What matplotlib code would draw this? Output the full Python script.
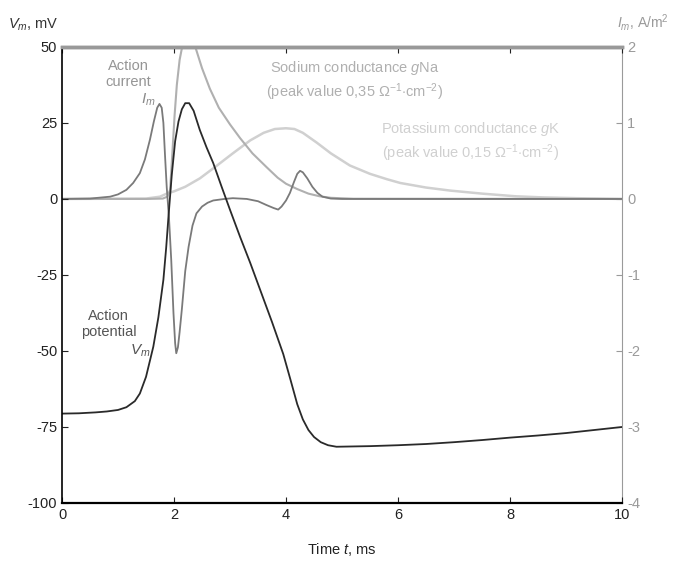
import matplotlib.pyplot as plt

plt.rcParams['font.family'] = ['Liberation Sans', 'DejaVu Sans']
plt.rcParams['mathtext.fontset'] = 'custom'
plt.rcParams['mathtext.rm'] = 'Liberation Sans'
plt.rcParams['mathtext.it'] = 'Liberation Sans:italic'
plt.rcParams['axes.unicode_minus'] = False

# membrane potential, mV (left axis)
t_vm = [0, 0.3, 0.6, 0.8, 1.0, 1.15, 1.3, 1.39, 1.5, 1.63, 1.72, 1.81, 1.86, 1.9, 1.96,
        2.02, 2.08, 2.14, 2.2, 2.27, 2.35, 2.46, 2.58, 2.7, 2.85, 3.0, 3.18, 3.36, 3.55,
        3.75, 3.95, 4.08, 4.2, 4.3, 4.4, 4.5, 4.62, 4.75, 4.9, 5.2, 5.5, 6, 6.5, 7, 7.5,
        8, 8.5, 9, 9.5, 10]
vm = [-70.6, -70.5, -70.2, -69.9, -69.4, -68.5, -66.5, -64, -58.5, -48.6, -39, -26.6, -16, -6, 8,
      19, 25.5, 29.5, 31.5, 31.5, 29, 22.7, 17, 11.8, 4, -3.6, -12.5, -21, -30.5,
      -40.5, -51, -59.5, -67.5, -72.5, -76, -78.3, -80, -81, -81.5, -81.4, -81.3, -81, -80.6, -80, -79.3,
      -78.5, -77.8, -77, -76, -75]

# action current, A/m2 (right axis)
t_im = [0, 0.5, 0.86, 1.0, 1.15, 1.27, 1.39, 1.48, 1.57, 1.64, 1.7, 1.74, 1.78, 1.81, 1.84,
        1.87, 1.91, 1.95, 1.99, 2.02, 2.04, 2.07, 2.1, 2.14, 2.2, 2.26, 2.33, 2.4, 2.5, 2.6,
        2.7, 2.9, 3.05, 3.3, 3.5, 3.65, 3.78, 3.86, 3.92, 4.0, 4.07, 4.14, 4.2, 4.25, 4.3,
        4.38, 4.47, 4.56, 4.65, 4.8, 5.0, 10]
im = [0, 0.005, 0.03, 0.06, 0.12, 0.21, 0.34, 0.52, 0.78, 1.02, 1.2, 1.25, 1.2, 1.0, 0.56,
      0.15, -0.25, -0.8, -1.5, -1.9, -2.03, -1.95, -1.75, -1.45, -0.95, -0.63, -0.35, -0.19, -0.1, -0.05,
      -0.02, 0.0, 0.01, 0.0, -0.03, -0.08, -0.12, -0.14, -0.1, -0.02, 0.08, 0.22, 0.33, 0.37, 0.35,
      0.27, 0.16, 0.08, 0.03, 0.005, 0, 0]

# sodium conductance (scaled to right axis)
t_na = [0, 1.5, 1.8, 1.88, 1.93, 1.97, 2.01, 2.05, 2.1, 2.15, 2.2, 2.3, 2.38, 2.5, 2.64,
        2.8, 3.0, 3.18, 3.4, 3.65, 3.85, 4.0, 4.2, 4.4, 4.6, 4.8, 5.2, 10]
g_na = [0, 0, 0.005, 0.03, 0.12, 0.6, 1.1, 1.5, 1.83, 2.02, 2.1, 2.12, 2.0, 1.72, 1.45,
        1.2, 0.98, 0.8, 0.6, 0.42, 0.28, 0.2, 0.13, 0.07, 0.035, 0.015, 0.003, 0]

# potassium conductance (scaled to right axis)
t_k = [0, 1.5, 1.75, 1.87, 2.0, 2.2, 2.46, 2.75, 3.05, 3.36, 3.6, 3.8, 4.0, 4.15, 4.3,
       4.55, 4.8, 5.14, 5.5, 5.8, 6.04, 6.5, 6.93, 7.5, 8.1, 8.6, 9.2, 10]
g_k = [0, 0.005, 0.03, 0.07, 0.1, 0.16, 0.27, 0.43, 0.6, 0.77, 0.87, 0.92, 0.93, 0.92, 0.87,
       0.74, 0.6, 0.44, 0.33, 0.26, 0.21, 0.15, 0.11, 0.07, 0.035, 0.02, 0.01, 0]

fig = plt.figure(figsize=(6.83, 5.62), dpi=100)
ax = fig.add_axes([0.0908, 0.105, 0.82, 0.8115])
ax2 = ax.twinx()

ax2.plot(t_k, g_k, color='#d0d0d0', lw=1.8)
ax2.plot(t_na, g_na, color='#b0b0b0', lw=1.5)
ax2.plot(t_im, im, color='#7a7a7a', lw=1.3)
ax.plot(t_vm, vm, color='#2a2a2a', lw=1.3)
ax.set_zorder(ax2.get_zorder() + 1)
ax.patch.set_visible(False)

ax.set_xlim(0, 10)
ax.set_ylim(-100, 50)
ax2.set_ylim(-4, 2)
ax.set_xticks([0, 2, 4, 6, 8, 10])
ax.set_yticks([50, 25, 0, -25, -50, -75, -100])
ax2.set_yticks([2, 1, 0, -1, -2, -3, -4])
ax.tick_params(direction='in', length=4, labelsize=10.5, top=True, colors='#222222')
ax2.tick_params(direction='in', length=4, labelsize=10.5, colors='#9a9a9a')

for a in (ax, ax2):
    a.spines['top'].set_color('#999999')
    a.spines['top'].set_linewidth(2.5)
ax.spines['right'].set_visible(False)
ax2.spines['right'].set_color('#9a9a9a')
ax2.spines['left'].set_visible(False)
ax2.spines['bottom'].set_visible(False)
ax.spines['left'].set_linewidth(1.2)
ax.spines['bottom'].set_linewidth(1.6)

ax.set_xlabel('Time $t$, ms', fontsize=10.5, color='#222222', labelpad=14)
fig.text(0.012, 0.955, '$V_m$, mV', fontsize=10.5, color='#333333', va='center')
fig.text(0.903, 0.96, '$I_m$, A/m$^2$', fontsize=10, color='#9a9a9a', va='center')

ax.text(1.18, 41, 'Action\ncurrent', fontsize=10.5, color='#959595', ha='center', va='center',
        linespacing=1.2)
ax2.text(1.54, 1.3, '$I_m$', fontsize=11, color='#8a8a8a', ha='center', va='center')
ax2.text(5.23, 1.55, 'Sodium conductance $g$Na\n(peak value 0,35 $\\Omega^{-1}{\\cdot}$cm$^{-2}$)',
         fontsize=10.5, color='#b0b0b0', ha='center', va='center', linespacing=1.3)
ax2.text(7.3, 0.75, 'Potassium conductance $g$K\n(peak value 0,15 $\\Omega^{-1}{\\cdot}$cm$^{-2}$)',
         fontsize=10.5, color='#d0d0d0', ha='center', va='center', linespacing=1.3)
ax.text(0.83, -41, 'Action\npotential', fontsize=10.5, color='#555555', ha='center', va='center',
        linespacing=1.2)
ax.text(1.4, -50, '$V_m$', fontsize=11, color='#555555', ha='center', va='center')

fig.savefig('out.png', dpi=100)
